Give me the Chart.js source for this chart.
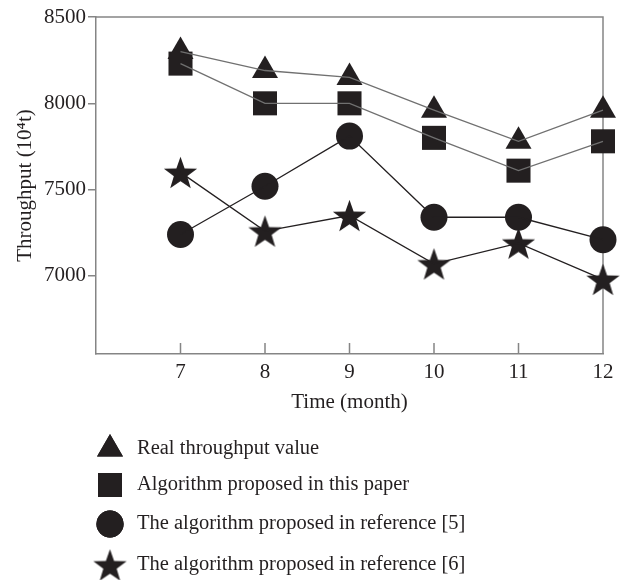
<!DOCTYPE html>
<html>
<head>
<meta charset="utf-8">
<script src="https://cdn.jsdelivr.net/npm/chart.js@4/dist/chart.umd.min.js"></script>
<style>
  html, body { margin: 0; padding: 0; background: #fff; }
</style>
</head>
<body>
<canvas id="myChart" width="631" height="580"></canvas>
<script>
// data
const months = [7, 8, 9, 10, 11, 12]
const realValues = [8300, 8190, 8150, 7960, 7780, 7960]
const paperValues = [8230, 8000, 8000, 7800, 7610, 7780]
const ref5Values = [7240, 7520, 7810, 7340, 7340, 7210]
const ref6Values = [7600, 7260, 7350, 7070, 7190, 6980]
const seriesNames = [
    'Real throughput value',
    'Algorithm proposed in this paper',
    'The algorithm proposed in reference [5]',
    'The algorithm proposed in reference [6]'
]
const xTicks = [7, 8, 9, 10, 11, 12]
const yTicks = [7000, 7500, 8000, 8500]

const ink = '#231f20'
const greyLine = '#707070'
const axisGrey = '#858585'
const serif = '"Liberation Serif", "DejaVu Serif", serif'

function makeStar(r) {
    const c = document.createElement('canvas')
    c.width = c.height = Math.ceil(2 * r) + 2
    const g = c.getContext('2d')
    const cx = c.width / 2
    const cy = c.height / 2 + 0.095 * r
    g.beginPath()
    for (let i = 0; i < 10; i++) {
        const rad = i % 2 ? r * 0.4 : r
        const a = -Math.PI / 2 + i * Math.PI / 5
        g.lineTo(cx + rad * Math.cos(a), cy + rad * Math.sin(a))
    }
    g.closePath()
    g.fillStyle = ink
    g.fill()
    return c
}
const starImg = makeStar(17.5)

const pts = values => values.map((v, i) => ({x: months[i], y: v}))

const markers = [
    {style: 'triangle', radius: 15},
    {style: 'rect', radius: 17},
    {style: 'circle', radius: 13.5},
    {style: starImg, radius: 17}
]
const allValues = [realValues, paperValues, ref5Values, ref6Values]
const lineColors = [greyLine, greyLine, ink, ink]

const datasets = []
allValues.forEach((values, i) => {
    // marker layer
    datasets.push({
        label: seriesNames[i],
        data: pts(values),
        showLine: false,
        clip: false,
        pointStyle: markers[i].style,
        pointRadius: markers[i].radius,
        pointHoverRadius: markers[i].radius,
        pointBackgroundColor: ink,
        pointBorderColor: ink,
        pointBorderWidth: 0,
        order: 2
    })
    // line layer, drawn over the markers
    datasets.push({
        label: seriesNames[i] + ' line',
        data: pts(values),
        clip: false,
        borderColor: lineColors[i],
        borderWidth: 1.3,
        pointRadius: 0,
        tension: 0,
        fill: false,
        order: 1
    })
})

const frame = {
    id: 'frame',
    beforeDatasetsDraw(chart) {
        const {ctx, chartArea: a} = chart
        const xs = chart.scales.x
        ctx.save()
        ctx.strokeStyle = axisGrey
        ctx.lineWidth = 1.5
        ctx.beginPath()
        ctx.moveTo(a.left, a.top)
        ctx.lineTo(a.right, a.top)
        ctx.lineTo(a.right, a.bottom)
        // inward ticks on the time axis
        for (const m of xTicks) {
            const px = xs.getPixelForValue(m)
            ctx.moveTo(px, a.bottom)
            ctx.lineTo(px, a.bottom - 11)
        }
        ctx.stroke()
        ctx.restore()
    },
    afterDraw(chart) {
        const ctx = chart.ctx
        // legend
        const rowY = [449, 485, 524, 565]
        ctx.save()
        ctx.font = '20.5px ' + serif
        ctx.fillStyle = ink
        ctx.textBaseline = 'middle'
        seriesNames.forEach((name, i) => {
            Chart.helpers.drawPoint(ctx, {
                pointStyle: markers[i].style,
                radius: markers[i].radius,
                borderWidth: 0,
                rotation: 0
            }, 110, rowY[i])
            ctx.fillStyle = ink
            ctx.fill()
            ctx.fillText(name, 137, rowY[i])
        })
        ctx.restore()
    }
}

const ctx = document.getElementById('myChart').getContext('2d')
new Chart(ctx, {
    type: 'line',
    data: {datasets},
    options: {
        responsive: false,
        animation: false,
        devicePixelRatio: 1,
        layout: {padding: {left: 0, right: 28, top: 17, bottom: 165}},
        plugins: {legend: {display: false}, tooltip: {enabled: false}},
        scales: {
            x: {
                type: 'linear',
                min: 6,
                max: 12,
                afterBuildTicks: scale => { scale.ticks = xTicks.map(v => ({value: v})) },
                afterFit: scale => { scale.height = 61 },
                grid: {display: true, drawOnChartArea: false, drawTicks: false},
                border: {display: true, color: axisGrey, width: 1.5},
                ticks: {color: ink, font: {family: serif, size: 21}, padding: 6, maxRotation: 0, callback: v => String(v)},
                title: {display: true, text: 'Time (month)', color: ink, font: {family: serif, size: 21, lineHeight: 1.2}, padding: 0}
            },
            y: {
                min: 6548,
                max: 8500,
                afterBuildTicks: scale => { scale.ticks = yTicks.map(v => ({value: v})) },
                afterFit: scale => { scale.width = 96 },
                grid: {drawOnChartArea: false, drawTicks: true, tickLength: 8, color: axisGrey, lineWidth: 1.5},
                border: {display: true, color: axisGrey, width: 1.5},
                ticks: {color: ink, font: {family: serif, size: 21}, padding: 2, callback: v => String(v)},
                title: {display: true, text: 'Throughput (10⁴t)', color: ink, font: {family: serif, size: 21, lineHeight: 1.2}, padding: {top: 13, bottom: 0}}
            }
        }
    },
    plugins: [frame]
})
</script>
</body>
</html>
